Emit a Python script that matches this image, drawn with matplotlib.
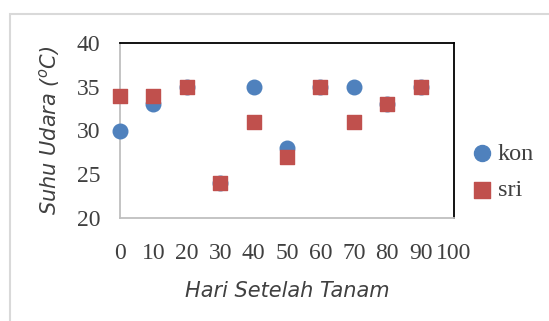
import numpy as np
import matplotlib
matplotlib.use('Agg')
import matplotlib.pyplot as plt
from matplotlib.patches import Rectangle

# data
hari = [0, 10, 20, 30, 40, 50, 60, 70, 80, 90]
kon = [30, 33, 35, 24, 35, 28, 35, 35, 33, 35]
sri = [34, 34, 35, 24, 31, 27, 35, 31, 33, 35]
xticks = [0, 10, 20, 30, 40, 50, 60, 70, 80, 90, 100]
yticks = [20, 25, 30, 35, 40]

fig = plt.figure(figsize=(5.49, 3.21), dpi=100)
fig.patches.append(Rectangle((10/549, -0.1), 1, 1.1 - 14/321, transform=fig.transFigure,
                             fill=False, edgecolor='#d9d9d9', linewidth=1.5))

ax = fig.add_axes([120/549, 103/321, 334/549, 175/321])
ax.scatter(hari, kon, s=110, color='#4f81bd', marker='o', label='kon', zorder=3, clip_on=False)
ax.scatter(hari, sri, s=100, color='#c0504d', marker='s', label='sri', zorder=4, clip_on=False)

ax.set_xlim(0, 100)
ax.set_ylim(20, 40)
ax.set_xticks(xticks)
ax.set_yticks(yticks)
ax.tick_params(length=0, labelsize=17)
ax.tick_params(axis='x', pad=18)
ax.tick_params(axis='y', pad=14)
for lab in ax.get_xticklabels() + ax.get_yticklabels():
    lab.set_family('Liberation Serif')
    lab.set_color('#404040')

for s in ['left', 'bottom']:
    ax.spines[s].set_color('#bfbfbf')
    ax.spines[s].set_linewidth(1.3)
for s in ['top', 'right']:
    ax.spines[s].set_color('black')
    ax.spines[s].set_linewidth(1.3)

ax.set_xlabel('Hari Setelah Tanam', fontsize=15, style='italic', color='#404040', labelpad=12)
ax.set_ylabel(r'Suhu Udara ($^{o}$C)', fontsize=15, style='italic', color='#404040', labelpad=11)

leg = ax.legend(loc='center left', bbox_to_anchor=(470/549, 1 - 172/321), bbox_transform=fig.transFigure,
                frameon=False, fontsize=17.5, handlelength=1.0, handletextpad=0.15, labelspacing=0.6,
                borderaxespad=0, borderpad=0, markerscale=1.1)
for t in leg.get_texts():
    t.set_family('Liberation Serif')
    t.set_color('#404040')

plt.savefig('out.png', dpi=100)
